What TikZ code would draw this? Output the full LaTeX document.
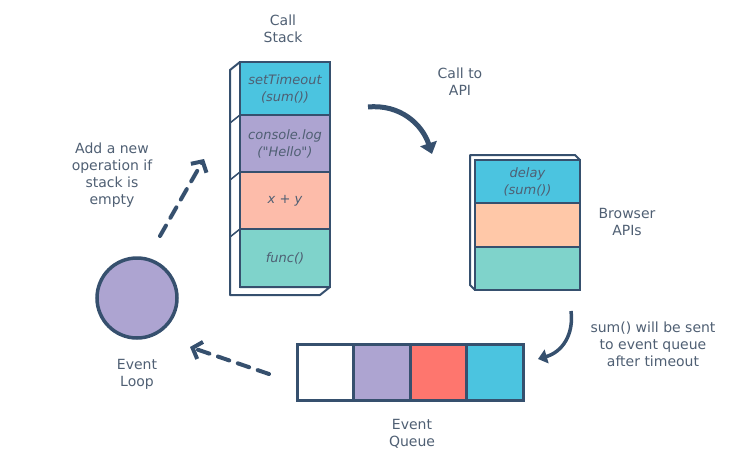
\documentclass[tikz,border=0pt]{standalone}
\usepackage{fontspec}
\setmainfont{DejaVu Sans}
\usetikzlibrary{arrows.meta}
\definecolor{navy}{HTML}{36506E}
\definecolor{txt}{HTML}{4F5F73}
\definecolor{cblue}{HTML}{4BC4E0}
\definecolor{cpurple}{HTML}{ADA4D1}
\definecolor{cpeach}{HTML}{FDBCAA}
\definecolor{cteal}{HTML}{7FD3CB}
\definecolor{bpeach}{HTML}{FFC8A8}
\definecolor{cred}{HTML}{FE766E}
\tikzset{
  cell/.style={draw=navy, line width=2.8pt, inner sep=0pt, outer sep=0pt, align=center, text=txt,
    font=\fontsize{13}{17}\selectfont\itshape},
  side/.style={draw=navy, line width=2pt, fill=white, line join=round},
  lbl/.style={text=txt, align=center, font=\fontsize{14}{17}\selectfont},
  thickarrow/.style={draw=navy, line width=5pt, -{Triangle[length=11pt,width=17pt]}},
  medarrow/.style={draw=navy, line width=3.5pt, -{Triangle[length=9pt,width=14pt]}},
  dasharrow/.style={draw=navy, line width=4pt, dash pattern=on 12pt off 9pt, line cap=round,
    -{Straight Barb[length=8pt,width=18pt,line width=4pt]}},
  qcell/.style={draw=navy, line width=3pt, minimum width=56.5pt, minimum height=56pt, inner sep=0pt, outer sep=0pt}
}
\begin{document}
\begin{tikzpicture}[x=1pt,y=-1pt]
\useasboundingbox (0,0) rectangle (747,463);
% Call stack
\node[lbl] (cslbl) at (283,29) {Call\\Stack};
\draw[side] (240,62) -- (230,70) -- (230,295) -- (320,295) -- (330,287) -- (240,287) -- cycle;
\foreach \yy in {115,172,229} \draw[navy, line width=1.5pt] (240,\yy) -- (230,\yy+8);
\node[cell, fill=cblue, minimum width=90pt, minimum height=53pt] (s1) at (285,88.5) {setTimeout\\(sum())};
\node[cell, fill=cpurple, minimum width=90pt, minimum height=57pt, anchor=north] (s2) at (s1.south) {console.log\\(\textquotedbl Hello\textquotedbl)};
\node[cell, fill=cpeach, minimum width=90pt, minimum height=57pt, anchor=north] (s3) at (s2.south) {x + y};
\node[cell, fill=cteal, minimum width=90pt, minimum height=58pt, anchor=north] (s4) at (s3.south) {func()};
% Browser APIs
\node[lbl] (apilbl) at (460,82) {Call to\\API};
\draw[side] (470,155) -- (575,155) -- (580,160) -- (475,160) -- (475,290) -- (470,285) -- cycle;
\node[cell, fill=cblue, minimum width=105pt, minimum height=43pt] (b1) at (527.5,181.5) {delay\\(sum())};
\node[cell, fill=bpeach, minimum width=105pt, minimum height=44pt, anchor=north] (b2) at (b1.south) {};
\node[cell, fill=cteal, minimum width=105pt, minimum height=43pt, anchor=north] (b3) at (b2.south) {};
\node[lbl] (brlbl) at (627,222) {Browser\\APIs};
% Event queue
\node[qcell, fill=white] (q1) at (325.5,372.5) {};
\node[qcell, fill=cpurple, anchor=west] (q2) at (q1.east) {};
\node[qcell, fill=cred, anchor=west] (q3) at (q2.east) {};
\node[qcell, fill=cblue, anchor=west] (q4) at (q3.east) {};
\node[lbl] (eqlbl) at (412,434) {Event\\Queue};
\node[lbl] (sumlbl) at (653,344) {sum() will be sent\\to event queue\\after timeout};
% Event loop
\node[circle, draw=navy, line width=3.5pt, fill=cpurple, minimum size=80pt, inner sep=0pt] (loop) at (137,298) {};
\node[lbl] (ellbl) at (137,374) {Event\\Loop};
\node[lbl] (addlbl) at (112,175) {Add a new\\operation if\\stack is\\empty};
% connectors
\coordinate (a1s) at (368,107);
\coordinate (a1e) at (432,154);
\draw[thickarrow] (a1s) .. controls (400,104) and (422,124) .. (a1e);
\coordinate (a2s) at (571,311);
\coordinate (a2e) at (538,359);
\draw[medarrow] (a2s) .. controls (574,335) and (562,352) .. (a2e);
\coordinate (d1s) at (160,236);
\coordinate (d1e) at (204,159);
\draw[dasharrow] (d1s) -- (d1e);
\coordinate (d2s) at (269,374);
\coordinate (d2e) at (190,347);
\draw[dasharrow] (d2s) -- (d2e);
\end{tikzpicture}
\end{document}
